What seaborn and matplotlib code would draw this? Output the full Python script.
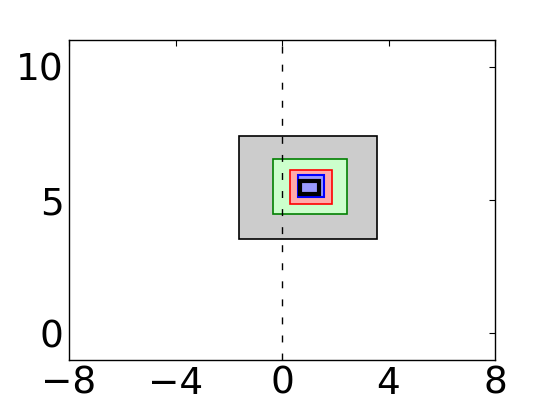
import matplotlib
matplotlib.use("Agg")
import matplotlib.pyplot as plt
import seaborn as sns
from matplotlib.patches import Rectangle

# nested boxes, outer to inner: left, right, bottom, top
box_left = [-1.62, -0.35, 0.30, 0.60, 0.68]
box_right = [3.56, 2.43, 1.89, 1.58, 1.39]
box_bottom = [3.55, 4.49, 4.86, 5.11, 5.22]
box_top = [7.40, 6.55, 6.11, 5.94, 5.71]
face_colors = ["#cccccc", "#ccffcc", "#ffaaaa", "#9999ff", "none"]
edge_colors = ["black", "green", "red", "blue", "black"]
edge_widths = [1.2, 1.2, 1.2, 1.5, 3.0]

# vertical reference line
vline_x = [0, 0]
vline_y = [-1, 11]

x_ticks = [-8, -4, 0, 4, 8]
y_ticks = [0, 5, 10]

sns.set_theme(style="white")
plt.rcParams['font.family'] = ['DejaVu Sans']
plt.rcParams['xtick.direction'] = 'in'
plt.rcParams['ytick.direction'] = 'in'

fig = plt.figure(figsize=(5.5, 4), dpi=100)
ax = fig.add_axes([0.1255, 0.1, 0.7745, 0.8])

for l, r, b, t, fc, ec, lw in zip(box_left, box_right, box_bottom, box_top,
                                  face_colors, edge_colors, edge_widths):
    ax.add_patch(Rectangle((l, b), r - l, t - b, facecolor=fc, edgecolor=ec, linewidth=lw))

sns.lineplot(x=vline_x, y=vline_y, estimator=None, sort=False, color="black",
             linestyle=(0, (5, 8)), linewidth=1, ax=ax, zorder=5)

ax.set_xlim(-8, 8)
ax.set_ylim(-1, 11)
ax.set_xticks(x_ticks)
ax.set_yticks(y_ticks)
ax.tick_params(axis="both", which="major", labelsize=27, length=4, width=0.8,
               top=True, right=True, color="black", labelcolor="black", pad=4)
for s in ax.spines.values():
    s.set_edgecolor("black")
    s.set_linewidth(1)

fig.savefig("out.png", dpi=100)
